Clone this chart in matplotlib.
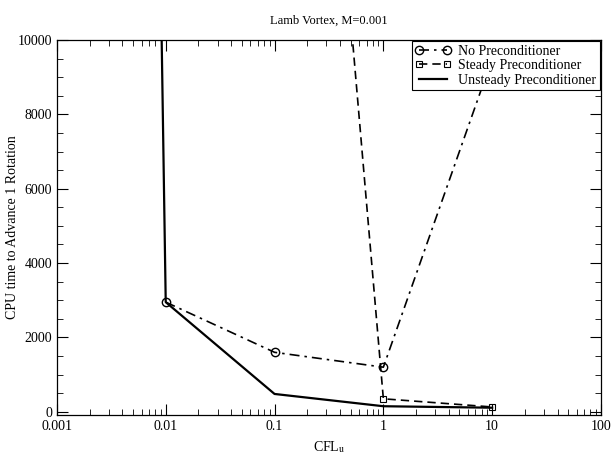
import numpy as np
import matplotlib
matplotlib.use('Agg')
from matplotlib import pyplot as plt
from matplotlib.ticker import MultipleLocator, LogLocator, NullFormatter

plt.rcParams['font.family'] = ['Liberation Serif', 'DejaVu Serif']
plt.rcParams['mathtext.fontset'] = 'stix'

# values
cfl_none     = [0.01, 0.1, 1, 10]
cpu_none     = [2950, 1600, 1200, 9500]
cfl_steady   = [0.5, 1, 10]
cpu_steady   = [10600, 350, 130]
cfl_unsteady = [0.005, 0.01, 0.1, 1, 10]
cpu_unsteady = [60000, 2950, 480, 150, 110]

fig = plt.figure(figsize=(6.12, 4.65), dpi=100)
ax = fig.add_axes([0.093, 0.108, 0.889, 0.806])

ax.plot(cfl_none, cpu_none, color='black', lw=1.2, ls=(0, (6, 3, 1.5, 3)),
        marker='o', ms=6, mfc='none', mew=1.0, label='No Preconditioner')
ax.plot(cfl_steady, cpu_steady, color='black', lw=1.2, ls=(0, (5, 3)),
        marker='s', ms=5, mfc='none', mew=0.8, label='Steady Preconditioner')
ax.plot(cfl_unsteady, cpu_unsteady, color='black', lw=1.6, ls='-',
        label='Unsteady Preconditioner')

ax.set_xscale('log')
ax.set_xlim(0.001, 100)
ax.set_ylim(-80, 10000)
ax.set_xticks([0.001, 0.01, 0.1, 1, 10, 100])
ax.set_xticklabels(['0.001', '0.01', '0.1', '1', '10', '100'])
ax.xaxis.set_minor_locator(LogLocator(base=10, subs=np.arange(2, 10)))
ax.xaxis.set_minor_formatter(NullFormatter())
ax.yaxis.set_major_locator(MultipleLocator(2000))
ax.yaxis.set_minor_locator(MultipleLocator(500))

ax.tick_params(which='both', direction='in', top=True, right=True, labelsize=10)
ax.tick_params(which='major', length=8, width=0.8)
ax.tick_params(which='minor', length=4, width=0.6)
for s in ax.spines.values():
    s.set_linewidth(0.9)

ax.set_title('Lamb Vortex, M=0.001', fontsize=9, pad=12)
ax.set_xlabel('CFL$_\\mathrm{u}$', fontsize=10, labelpad=5)
ax.set_ylabel('CPU time to Advance 1 Rotation', fontsize=10, labelpad=-1)

leg = ax.legend(loc='upper right', fontsize=10, numpoints=2, handlelength=2.6,
                frameon=True, fancybox=False, borderaxespad=0.1,
                borderpad=0.25, labelspacing=0.1, handletextpad=0.5)
leg.get_frame().set_edgecolor('black')
leg.get_frame().set_linewidth(0.8)
leg.get_frame().set_alpha(1)

fig.savefig('out.png', dpi=100)
